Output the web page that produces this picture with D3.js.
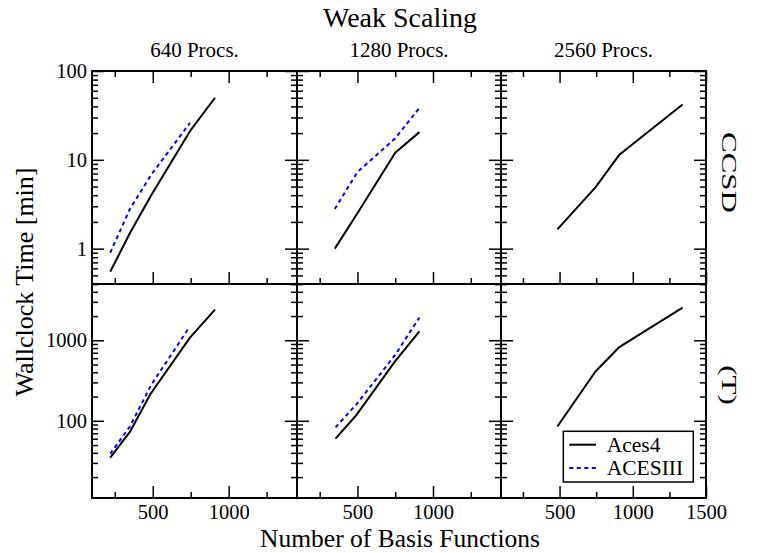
<!DOCTYPE html>
<html>
<head>
<meta charset="utf-8">
<script src="https://cdn.jsdelivr.net/npm/d3@7"></script>
<style>
  html, body { margin: 0; padding: 0; background: #fff; }
  svg { display: block; }
  text { font-family: "Liberation Serif", "Times New Roman", serif; fill: #000; }
</style>
</head>
<body>
<svg id="chart" width="758" height="553"></svg>
<script>
// ---------- data ----------
const columns = ["640 Procs.", "1280 Procs.", "2560 Procs."];
const rows = ["CCSD", "(T)"];
const seriesNames = ["Aces4", "ACESIII"];

// CCSD, 640 procs
const ccsd640_aces4_x = [220, 350, 490, 745, 910];
const ccsd640_aces4_y = [0.55, 1.5, 4.0, 21, 50];
const ccsd640_acesiii_x = [220, 350, 490, 745];
const ccsd640_acesiii_y = [0.9, 2.8, 6.8, 26];
// CCSD, 1280 procs
const ccsd1280_aces4_x = [350, 500, 750, 910];
const ccsd1280_aces4_y = [1.0, 2.5, 12, 20.5];
const ccsd1280_acesiii_x = [350, 500, 750, 905];
const ccsd1280_acesiii_y = [2.8, 7.3, 17.5, 37.5];
// CCSD, 2560 procs
const ccsd2560_aces4_x = [485, 745, 910, 1340];
const ccsd2560_aces4_y = [1.65, 4.9, 11.5, 42];
// (T), 640 procs
const t640_aces4_x = [220, 352, 485, 745, 910];
const t640_aces4_y = [35, 74, 215, 1080, 2400];
const t640_acesiii_x = [220, 350, 490, 730];
const t640_acesiii_y = [39, 85, 280, 1350];
// (T), 1280 procs
const t1280_aces4_x = [355, 490, 750, 910];
const t1280_aces4_y = [60, 116, 550, 1290];
const t1280_acesiii_x = [355, 500, 750, 910];
const t1280_acesiii_y = [83, 166, 660, 1920];
// (T), 2560 procs
const t2560_aces4_x = [485, 745, 905, 1340];
const t2560_aces4_y = [85, 410, 815, 2550];

// ---------- axis ticks ----------
const xDomainNarrow = [100, 1450];
const xDomainWide = [100, 1500];
const xMajorTicks = [500, 1000, 1500];
const xMinorTicks = [250, 750, 1250];
const xTickLabels = [["500", "1000"], ["500", "1000"], ["500", "1000", "1500"]];

const yDomainCCSD = [0.4, 100];
const yMajorCCSD = [1, 10, 100];
const yMinorCCSD = [0.4, 0.5, 0.6, 0.7, 0.8, 0.9, 2, 3, 4, 5, 6, 7, 8, 9, 20, 30, 40, 50, 60, 70, 80, 90];
const yTickLabelsCCSD = ["1", "10", "100"];

const yDomainT = [11, 5000];
const yMajorT = [100, 1000];
const yMinorT = [20, 30, 40, 50, 60, 70, 80, 90, 200, 300, 400, 500, 600, 700, 800, 900, 2000, 3000, 4000, 5000];
const yTickLabelsT = ["100", "1000"];

// ---------- layout ----------
const colEdges = [92, 297, 501, 706];
const rowEdges = [71, 284, 498];
const svg = d3.select("#chart");

const panels = [
  { r: 0, c: 0, series: [[ccsd640_aces4_x, ccsd640_aces4_y, 0], [ccsd640_acesiii_x, ccsd640_acesiii_y, 1]] },
  { r: 0, c: 1, series: [[ccsd1280_aces4_x, ccsd1280_aces4_y, 0], [ccsd1280_acesiii_x, ccsd1280_acesiii_y, 1]] },
  { r: 0, c: 2, series: [[ccsd2560_aces4_x, ccsd2560_aces4_y, 0]] },
  { r: 1, c: 0, series: [[t640_aces4_x, t640_aces4_y, 0], [t640_acesiii_x, t640_acesiii_y, 1]] },
  { r: 1, c: 1, series: [[t1280_aces4_x, t1280_aces4_y, 0], [t1280_acesiii_x, t1280_acesiii_y, 1]] },
  { r: 1, c: 2, series: [[t2560_aces4_x, t2560_aces4_y, 0]] },
];

const styles = [
  { stroke: "#000", dash: null },
  { stroke: "#0000ff", dash: "4,3.5" },
];

function styleAxis(g, w) {
  g.select(".domain").remove();
  g.selectAll(".tick line").attr("stroke", "#000").attr("stroke-width", w);
  g.selectAll(".tick text").style("font-family", "Liberation Serif").style("font-size", "20.5px").attr("fill", "#000");
}

panels.forEach(p => {
  const x0 = colEdges[p.c], x1 = colEdges[p.c + 1];
  const y0 = rowEdges[p.r], y1 = rowEdges[p.r + 1];
  const xs = d3.scaleLinear().domain(p.c === 2 ? xDomainWide : xDomainNarrow).range([x0, x1]);
  const ys = p.r === 0
    ? d3.scaleLog().domain(yDomainCCSD).range([y1, y0])
    : d3.scaleLog().domain(yDomainT).range([y1, y0]);
  const dom = xs.domain();
  const xMaj = xMajorTicks.filter(v => v >= dom[0] && v <= dom[1]);
  const yMaj = p.r === 0 ? yMajorCCSD : yMajorT;
  const yMin = p.r === 0 ? yMinorCCSD : yMinorT;
  const yLabels = p.r === 0 ? yTickLabelsCCSD : yTickLabelsT;

  const g = svg.append("g");

  // lines
  p.series.forEach(([xv, yv, si]) => {
    const pts = xv.map((v, i) => [v, yv[i]]);
    const line = d3.line().x(d => xs(d[0])).y(d => ys(d[1]));
    g.append("path").datum(pts)
      .attr("d", line)
      .attr("fill", "none")
      .attr("stroke", styles[si].stroke)
      .attr("stroke-width", 2)
      .attr("stroke-dasharray", styles[si].dash)
      .attr("stroke-linejoin", "round");
  });

  // bottom axis (major + labels)
  const bottomLbl = p.r === 1 ? xTickLabels[p.c] : [];
  const gb = g.append("g").attr("transform", `translate(0,${y1})`)
    .call(d3.axisBottom(xs).tickValues(xMaj).tickSize(-12).tickSizeOuter(0).tickPadding(6)
      .tickFormat(d => { const s = String(d); return bottomLbl.includes(s) ? s : ""; }));
  styleAxis(gb, 1.5);
  g.append("g").attr("transform", `translate(0,${y1})`)
    .call(d3.axisBottom(xs).tickValues(xMinorTicks).tickSize(-6).tickSizeOuter(0).tickFormat(""))
    .call(a => styleAxis(a, 1.5));

  // top axis (only top row)
  if (p.r === 0) {
    g.append("g").attr("transform", `translate(0,${y0})`)
      .call(d3.axisTop(xs).tickValues(xMaj).tickSize(-12).tickSizeOuter(0).tickFormat(""))
      .call(a => styleAxis(a, 1.5));
    g.append("g").attr("transform", `translate(0,${y0})`)
      .call(d3.axisTop(xs).tickValues(xMinorTicks).tickSize(-6).tickSizeOuter(0).tickFormat(""))
      .call(a => styleAxis(a, 1.5));
  }

  // left axis
  const gl = g.append("g").attr("transform", `translate(${x0},0)`)
    .call(d3.axisLeft(ys).tickValues(yMaj).tickSize(-12).tickSizeOuter(0).tickPadding(5)
      .tickFormat(d => { const s = String(d); return (p.c === 0 && yLabels.includes(s)) ? s : ""; }));
  styleAxis(gl, 1.5);
  g.append("g").attr("transform", `translate(${x0},0)`)
    .call(d3.axisLeft(ys).tickValues(yMin).tickSize(-6).tickSizeOuter(0).tickFormat(""))
    .call(a => styleAxis(a, 1.5));

  // right axis
  g.append("g").attr("transform", `translate(${x1},0)`)
    .call(d3.axisRight(ys).tickValues(yMaj).tickSize(-12).tickSizeOuter(0).tickFormat(""))
    .call(a => styleAxis(a, 1.5));
  g.append("g").attr("transform", `translate(${x1},0)`)
    .call(d3.axisRight(ys).tickValues(yMin).tickSize(-6).tickSizeOuter(0).tickFormat(""))
    .call(a => styleAxis(a, 1.5));

  // frame
  g.append("rect")
    .attr("x", x0).attr("y", y0).attr("width", x1 - x0).attr("height", y1 - y0)
    .attr("fill", "none").attr("stroke", "#000").attr("stroke-width", 2);

  // legend in bottom-right panel
  if (p.r === 1 && p.c === 2) {
    const lg = svg.append("g");
    lg.append("rect").attr("x", 563.3).attr("y", 431.3).attr("width", 130).attr("height", 50.7)
      .attr("fill", "#fff").attr("stroke", "#000").attr("stroke-width", 1.5);
    seriesNames.forEach((name, i) => {
      const yy = 444.7 + i * 23.3;
      lg.append("line").attr("x1", 569.3).attr("x2", 596).attr("y1", yy).attr("y2", yy)
        .attr("stroke", styles[i].stroke).attr("stroke-width", 2)
        .attr("stroke-dasharray", styles[i].dash);
      lg.append("text").attr("x", 606.7).attr("y", yy + 7.2)
        .style("font-size", "21.5px").text(name);
    });
  }
});

// titles
svg.append("text").attr("x", 400).attr("y", 27.3).attr("text-anchor", "middle")
  .style("font-size", "28px").text("Weak Scaling");
columns.forEach((t, i) => {
  svg.append("text").attr("x", (colEdges[i] + colEdges[i + 1]) / 2).attr("y", 57.3)
    .attr("text-anchor", "middle").style("font-size", "21px").text(t);
});
// row labels (stretched, rotated)
const rowCenters = [172.5, 385];
rows.forEach((t, i) => {
  svg.append("text")
    .attr("transform", `translate(721.7,${rowCenters[i]}) rotate(90) scale(1.55,1)`)
    .attr("text-anchor", "middle").style("font-size", "20px").text(t);
});
// axis titles
svg.append("text").attr("transform", "translate(33,282) rotate(-90)")
  .attr("text-anchor", "middle").style("font-size", "26px").text("Wallclock Time [min]");
svg.append("text").attr("x", 400).attr("y", 546.5).attr("text-anchor", "middle")
  .style("font-size", "25.5px").text("Number of Basis Functions");
</script>
</body>
</html>
